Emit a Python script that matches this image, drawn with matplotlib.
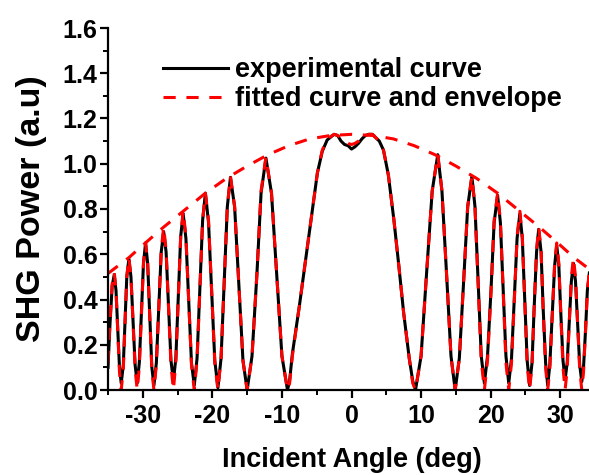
import matplotlib
matplotlib.use("Agg")
import matplotlib.pyplot as plt
from matplotlib.ticker import MultipleLocator, FormatStrFormatter, FuncFormatter

plt.rcParams['font.family'] = ['Liberation Sans', 'DejaVu Sans']
plt.rcParams['font.weight'] = 'bold'

# angle grid (deg), one row per half fringe
angle = [-35.0, -34.7, -34.4, -34.1,
         -33.85, -33.6, -33.35, -33.1,
         -32.8, -32.55, -32.3, -32.0,
         -31.7, -31.4, -31.1, -30.8,
         -30.5, -30.2, -29.9, -29.6,
         -29.3, -29.0, -28.7, -28.4,
         -28.05, -27.7, -27.35, -27.0,
         -26.65, -26.3, -25.95, -25.6,
         -25.25, -24.9, -24.55, -24.2,
         -23.8, -23.4, -23.0, -22.6,
         -22.2, -21.8, -21.4, -21.0,
         -20.55, -20.1, -19.65, -19.2,
         -18.75, -18.3, -17.85, -17.4,
         -16.8, -16.2, -15.6, -15.0,
         -14.3, -13.6, -13.0, -12.3,
         -11.5, -10.75, -10.0, -9.2,
         -8.9, -8.5, -7.5, -6.6, -5.6, -4.9, -4.2, -3.5, -2.5,
         -2.0, -1.5, -1.0, -0.5, 0.0, 0.5, 1.0, 1.5, 2.0, 2.5, 3.0,
         4.0, 4.6, 5.3, 6.1, 6.8, 7.5, 8.3, 8.8, 9.2,
         10.0, 10.8, 11.6, 12.4,
         13.0, 13.65, 14.3, 14.9,
         15.5, 16.1, 16.7, 17.3,
         17.75, 18.2, 18.65, 19.1,
         19.55, 20.05, 20.5, 21.0,
         21.4, 21.8, 22.2, 22.6,
         23.0, 23.4, 23.8, 24.2,
         24.55, 24.9, 25.25, 25.6,
         25.95, 26.25, 26.6, 26.9,
         27.25, 27.55, 27.9, 28.2,
         28.5, 28.85, 29.2, 29.5,
         29.8, 30.1, 30.4, 30.7,
         31.0, 31.3, 31.6, 31.9,
         32.2, 32.5, 32.8, 33.1,
         33.35, 33.65, 33.9, 34.2,
         34.5, 34.75, 35.0]

# measured SHG power (black)
experimental = [0.10, 0.30, 0.46, 0.51,
                0.44, 0.27, 0.10, 0.03,
                0.11, 0.30, 0.50, 0.58,
                0.50, 0.30, 0.11, 0.03,
                0.12, 0.34, 0.56, 0.65,
                0.56, 0.33, 0.10, 0.02,
                0.12, 0.37, 0.61, 0.70,
                0.61, 0.37, 0.13, 0.04,
                0.14, 0.41, 0.68, 0.78,
                0.67, 0.40, 0.12, 0.02,
                0.14, 0.45, 0.75, 0.87,
                0.74, 0.44, 0.13, 0.01,
                0.14, 0.48, 0.81, 0.94,
                0.81, 0.47, 0.13, 0.00,
                0.15, 0.51, 0.87, 1.025,
                0.87, 0.51, 0.15, 0.00,
                0.04, 0.16, 0.37, 0.575, 0.80, 0.96, 1.055, 1.105, 1.13,
                1.125, 1.10, 1.085, 1.08, 1.065, 1.075, 1.09, 1.11, 1.125, 1.13, 1.13,
                1.10, 1.06, 0.95, 0.75, 0.55, 0.34, 0.14, 0.04, 0.00,
                0.15, 0.52, 0.88, 1.04,
                0.88, 0.52, 0.15, 0.00,
                0.14, 0.47, 0.81, 0.944,
                0.81, 0.48, 0.15, 0.03,
                0.15, 0.44, 0.74, 0.86,
                0.74, 0.44, 0.15, 0.03,
                0.14, 0.40, 0.67, 0.78,
                0.67, 0.40, 0.13, 0.02,
                0.12, 0.36, 0.61, 0.71,
                0.61, 0.36, 0.12, 0.02,
                0.11, 0.33, 0.55, 0.64,
                0.55, 0.33, 0.13, 0.045,
                0.12, 0.30, 0.48, 0.56,
                0.48, 0.29, 0.11, 0.037,
                0.10, 0.27, 0.44, 0.52,
                0.44, 0.28, 0.12]

# fitted Maker fringes (red dashed)
fitted = [0.12, 0.31, 0.47, 0.52,
          0.44, 0.26, 0.08, 0.00,
          0.09, 0.29, 0.50, 0.585,
          0.50, 0.29, 0.09, 0.00,
          0.10, 0.33, 0.56, 0.65,
          0.56, 0.32, 0.09, 0.00,
          0.11, 0.36, 0.62, 0.72,
          0.62, 0.36, 0.11, 0.00,
          0.12, 0.40, 0.68, 0.79,
          0.68, 0.39, 0.11, 0.00,
          0.13, 0.44, 0.75, 0.87,
          0.75, 0.44, 0.12, 0.00,
          0.14, 0.47, 0.81, 0.945,
          0.81, 0.47, 0.13, 0.00,
          0.15, 0.51, 0.88, 1.03,
          0.87, 0.51, 0.15, 0.00,
          0.03, 0.15, 0.37, 0.575, 0.80, 0.96, 1.06, 1.11, 1.13,
          1.125, 1.115, 1.10, 1.09, 1.085, 1.09, 1.10, 1.115, 1.125, 1.13, 1.13,
          1.10, 1.06, 0.95, 0.75, 0.55, 0.34, 0.14, 0.03, 0.00,
          0.15, 0.52, 0.88, 1.04,
          0.88, 0.52, 0.15, 0.00,
          0.14, 0.47, 0.81, 0.945,
          0.81, 0.47, 0.13, 0.00,
          0.13, 0.43, 0.75, 0.87,
          0.75, 0.43, 0.12, 0.00,
          0.12, 0.39, 0.68, 0.79,
          0.68, 0.39, 0.11, 0.00,
          0.11, 0.36, 0.62, 0.72,
          0.62, 0.35, 0.10, 0.00,
          0.09, 0.32, 0.56, 0.65,
          0.56, 0.32, 0.10, 0.00,
          0.09, 0.29, 0.50, 0.585,
          0.50, 0.29, 0.09, 0.00,
          0.08, 0.27, 0.44, 0.52,
          0.44, 0.27, 0.12]

# envelope of the fit
env_angle = [-35, -32, -30, -27, -24, -21, -18, -15, -12, -9, -6, -3, 0,
             3, 6, 9, 12, 15, 18, 21, 24, 27, 30, 32, 35]
envelope = [0.515, 0.585, 0.64, 0.72, 0.795, 0.87, 0.935, 0.99, 1.04, 1.08, 1.11, 1.125, 1.13,
            1.125, 1.11, 1.08, 1.04, 0.99, 0.935, 0.87, 0.795, 0.72, 0.64, 0.585, 0.515]

fig = plt.figure(figsize=(5.89, 4.75), dpi=100)
ax = fig.add_axes([108 / 589, 1 - 390 / 475, 487 / 589, 362 / 475])

dash = (0, (4, 3.5))
ax.plot(angle, experimental, color='black', lw=2.2, solid_joinstyle='round',
        label='experimental curve')
ax.plot(angle, fitted, color='red', lw=2.2, ls=dash, label='fitted curve and envelope')
ax.plot(env_angle, envelope, color='red', lw=2.2, ls=dash)

ax.set_xlim(-35, 35)
ax.set_ylim(0, 1.6)
ax.xaxis.set_major_locator(MultipleLocator(10))
ax.xaxis.set_minor_locator(MultipleLocator(5))
ax.yaxis.set_major_locator(MultipleLocator(0.2))
ax.yaxis.set_minor_locator(MultipleLocator(0.1))
ax.yaxis.set_major_formatter(FormatStrFormatter('%.1f'))
ax.xaxis.set_major_formatter(FuncFormatter(lambda v, p: '%d' % v))

for s in ['top', 'right']:
    ax.spines[s].set_visible(False)
for s in ['left', 'bottom']:
    ax.spines[s].set_linewidth(1.6)

ax.tick_params(which='major', direction='out', length=6, width=1.6, labelsize=18)
ax.tick_params(axis='y', which='major', pad=1.5)
ax.tick_params(axis='x', which='major', pad=4)
ax.tick_params(which='minor', direction='out', length=3.5, width=1.4)

ax.set_xlabel('Incident Angle (deg)', fontsize=19.5, fontweight='bold', labelpad=14)
ax.set_ylabel('SHG Power (a.u)', fontsize=24.5, fontweight='bold', labelpad=11)

leg = ax.legend(loc='upper left', bbox_to_anchor=(163 / 589, 1 - 57 / 475),
                bbox_transform=fig.transFigure, frameon=False, borderpad=0,
                borderaxespad=0, fontsize=19.5, handlelength=2.4,
                handletextpad=0.26, labelspacing=0.12)
for t in leg.get_texts():
    t.set_fontweight('bold')

fig.savefig('out.png', dpi=100)
